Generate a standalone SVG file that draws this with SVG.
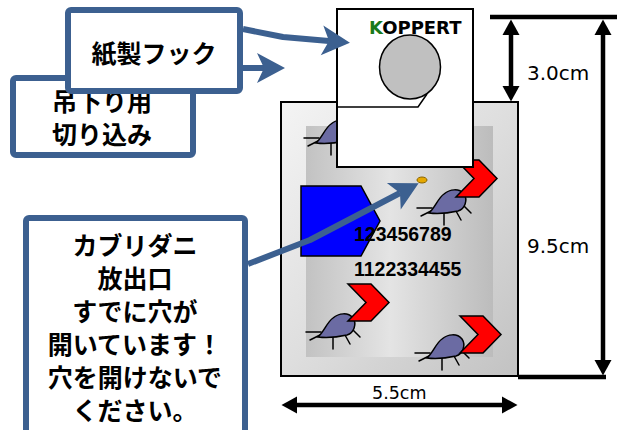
<svg xmlns="http://www.w3.org/2000/svg" width="617" height="430" viewBox="0 0 617 430">
  <style>
    .callout { fill: #ffffff; stroke: #3c6090; stroke-width: 6; }
    .jp { font-family: "Noto Sans CJK JP", "Noto Sans", sans-serif; font-weight: bold; font-size: 25px; fill: #000000; text-anchor: middle; }
    .link { fill: none; stroke: #3c6090; stroke-width: 6; stroke-linejoin: round; }
    .dim { fill: none; stroke: #000000; stroke-width: 4.5; }
    .dimtxt { font-family: "DejaVu Sans", sans-serif; fill: #000000; }
    .num { font-family: "Liberation Sans", Arial, sans-serif; font-weight: bold; font-size: 19.5px; fill: #000000; }
    .mite path.body { fill: #6b6ba3; stroke: #000000; stroke-width: 1.5; }
    .mite path.legs { fill: none; stroke: #000000; stroke-width: 1.5; stroke-linecap: round; }
    .chev { fill: #ff0000; stroke: #000000; stroke-width: 1.5; stroke-linejoin: miter; }
  </style>
  <defs>
    <linearGradient id="outerFill" x1="0" y1="0" x2="1" y2="1">
      <stop offset="0" stop-color="#f4f4f4"/>
      <stop offset="0.5" stop-color="#dedede"/>
      <stop offset="1" stop-color="#c2c2c2"/>
    </linearGradient>
    <linearGradient id="innerFill" x1="0" y1="0" x2="1" y2="0">
      <stop offset="0" stop-color="#c2c2c2"/>
      <stop offset="0.45" stop-color="#e4e4e4"/>
      <stop offset="1" stop-color="#bcbcbc"/>
    </linearGradient>
    <!-- notched arrowhead for callout links; refX sits at the notch -->
    <marker id="stealth" markerUnits="userSpaceOnUse" viewBox="-1 -17 31 34" markerWidth="31" markerHeight="34" refX="7" refY="0" orient="auto">
      <path d="M0,-15 L28,0 L0,15 L7,0 Z" fill="#3c6090"/>
    </marker>
    <!-- solid head for dimension arrows -->
    <marker id="dimHead" markerUnits="userSpaceOnUse" viewBox="0 -9 16 18" markerWidth="16" markerHeight="18" refX="0" refY="0" orient="auto-start-reverse">
      <path d="M0,-8.5 L15.5,0 L0,8.5 Z" fill="#000000"/>
    </marker>
    <!-- predatory mite, origin at the tail point -->
    <g id="mite" class="mite">
      <path class="legs" d="M-12,-5 H3 M-8,3 L2,-2 M15,0 L15,12 M27,-2 L32,7 M35,-7 L42,0"/>
      <path class="body" d="M0,0 C6,-5 9,-15 15,-19 C21,-24 30,-25 35,-19 C39,-13 36,-4 29,-2 C20,0 8,1 0,0 Z"/>
    </g>
    <!-- red chevron, 41 x 37 -->
    <path id="chevron" class="chev" d="M0,0 H23 L41,18.5 L23,37 H0 L18,18.5 Z"/>
  </defs>

  <!-- sachet body -->
  <g id="sachet">
    <rect x="281" y="102" width="237" height="274" fill="url(#outerFill)" stroke="#000000" stroke-width="2"/>
    <rect x="306" y="126" width="187" height="231" fill="url(#innerFill)"/>
    <use href="#mite" x="316" y="143"/>
    <use href="#mite" x="429" y="213"/>
    <use href="#chevron" x="456" y="160"/>
    <use href="#mite" x="318" y="337"/>
    <use href="#chevron" x="348" y="284"/>
    <use href="#mite" x="427" y="358"/>
    <use href="#chevron" x="460" y="316"/>
    <polygon points="301,186 361,186 380,221 361,256 301,256" fill="#0000ff" stroke="#000000" stroke-width="1.5"/>
    <ellipse cx="422" cy="180" rx="5" ry="3" fill="#e6a800" stroke="#8a6400" stroke-width="1"/>
  </g>

  <!-- paper hook card -->
  <g id="hook-card">
    <rect x="337" y="9" width="136" height="158" fill="#ffffff" stroke="#000000" stroke-width="2"/>
    <text x="369" y="34" font-family="DejaVu Sans, sans-serif" font-weight="bold" font-size="18" fill="#000000"><tspan fill="#1a7a1a">K</tspan>OPPERT</text>
    <ellipse cx="410" cy="67" rx="30.5" ry="32" fill="#c0c0c0" stroke="#000000" stroke-width="1.5"/>
    <polyline points="337,107 418,107 427,94" fill="none" stroke="#000000" stroke-width="1.5"/>
  </g>

  <!-- dimensions -->
  <g id="dimensions">
    <line class="dim" x1="490" y1="17" x2="617" y2="17"/>
    <line class="dim" x1="518" y1="377" x2="606" y2="377"/>
    <line class="dim" x1="511" y1="35" x2="511" y2="86" marker-start="url(#dimHead)" marker-end="url(#dimHead)"/>
    <line class="dim" x1="603" y1="35" x2="603" y2="360" marker-start="url(#dimHead)" marker-end="url(#dimHead)"/>
    <line class="dim" x1="297" y1="405" x2="502" y2="405" marker-start="url(#dimHead)" marker-end="url(#dimHead)"/>
    <text class="dimtxt" x="527" y="80" font-size="20">3.0cm</text>
    <text class="dimtxt" x="527" y="253" font-size="20">9.5cm</text>
    <text class="dimtxt" x="372" y="399" font-size="17.5">5.5cm</text>
  </g>

  <!-- callout boxes -->
  <g id="box-notch">
    <rect class="callout" x="13" y="78" width="180" height="77" rx="3"/>
    <text class="jp" x="102" y="111">吊下り用</text>
    <text class="jp" x="102" y="144">切り込み</text>
  </g>
  <g id="box-hook">
    <rect class="callout" x="68" y="10" width="172" height="81" rx="3"/>
    <text class="jp" x="154" y="63">紙製フック</text>
  </g>
  <g id="box-outlet">
    <rect class="callout" x="26" y="218" width="219" height="240" rx="3"/>
    <text class="jp" x="135" y="255">カブリダニ</text>
    <text class="jp" x="135" y="288">放出口</text>
    <text class="jp" x="135" y="321">すでに穴が</text>
    <text class="jp" x="135" y="354">開いています！</text>
    <text class="jp" x="135" y="387">穴を開けないで</text>
    <text class="jp" x="135" y="420">ください。</text>
  </g>

  <!-- connectors -->
  <g id="connectors">
    <path class="link" d="M243,29 L283,37 L329,41" marker-end="url(#stealth)"/>
    <path class="link" d="M243,68 L264,68" marker-end="url(#stealth)"/>
    <path class="link" d="M248,264 L310,240 L400,193" marker-end="url(#stealth)"/>
  </g>

  <!-- lot numbers printed on the sachet -->
  <g id="lot-numbers">
    <text class="num" x="354" y="241">123456789</text>
    <text class="num" x="354" y="276">1122334455</text>
  </g>
</svg>
